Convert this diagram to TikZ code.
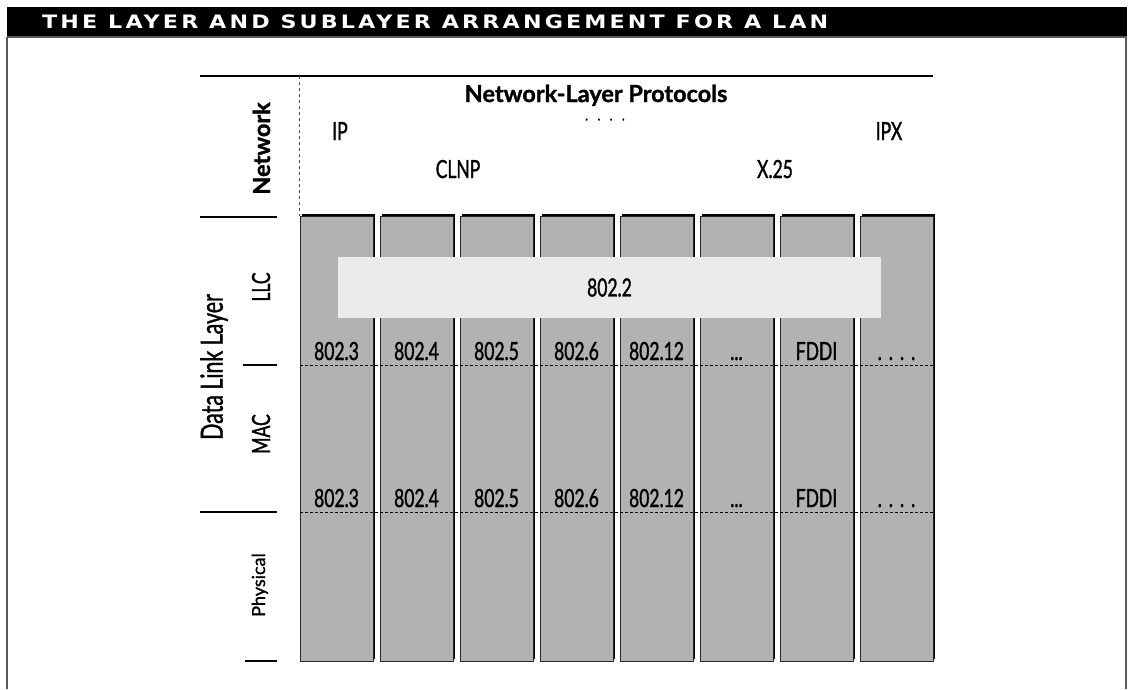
\documentclass[tikz,border=0pt]{standalone}
\usepackage{fontspec}
\setmainfont{Lato}
\newfontfamily\headfont[FakeBold=1.2]{Lato Bold}
\newfontfamily\plainfont[FakeBold=1.2]{Lato}
\newfontfamily\narrowfont[FakeStretch=0.7,FakeBold=1.2]{Lato}
\newfontfamily\titlefont[FakeStretch=1.2,LetterSpace=17]{DejaVu Sans}
\usepackage{tikz}
\usetikzlibrary{shadows}
\newcommand\tdots{...}
\newcommand\spdots{{\addfontfeature{LetterSpace=28}....}}

\begin{document}
\begin{tikzpicture}[x=1pt,y=-1pt,
  col/.style={draw=black!85,fill=black!30,line width=0.6pt,inner sep=0pt,minimum width=73pt,minimum height=445pt,
    drop shadow={shadow xshift=2pt,shadow yshift=2pt,fill=black,opacity=1}},
  lbl/.style={inner sep=0pt,font=\narrowfont\fontsize{25}{25}\selectfont},
  head/.style={inner sep=0pt,font=\headfont\fontsize{23.5}{24}\selectfont},
  side/.style={rotate=90,anchor=base},
  rule/.style={line width=1.8pt}]
  \useasboundingbox (0,0) rectangle (1130,689);
  \fill (7,7) rectangle (1127,37);
  \draw[black!65,line width=1.5pt] (7,37) -- (7,689) (1126,37) -- (1126,689) (7,37) -- (1127,37);
  \node[anchor=base west,inner sep=0pt,text=white,font=\titlefont\bfseries\fontsize{18.5}{19}\selectfont] (title) at (42,28.5) {THE LAYER AND SUBLAYER ARRANGEMENT FOR A LAN};
  \draw[line width=1.2pt] (200,76) -- (933,76);
  \draw[dashed,black!70,line width=0.6pt] (299,76) -- (299,216);
  \node[head,anchor=base] (nlp) at (596,102) {Network-Layer Protocols};
  \node[lbl,anchor=base,font=\narrowfont\fontsize{16}{16}\selectfont] (more) at (605,120.5) {\addfontfeature{LetterSpace=60}....};
  \node[lbl,anchor=base] (ip) at (340,140) {IP};
  \node[lbl,anchor=base] (ipx) at (889,140) {IPX};
  \node[lbl,anchor=base] (clnp) at (458,178) {CLNP};
  \node[lbl,anchor=base] (x25) at (775,178) {X.25};
  \node[head,side] (net) at (270,148.5) {Network};
  \node[lbl,side] (llclbl) at (270,287) {LLC};
  \node[lbl,side,font=\narrowfont\fontsize{30.5}{31}\selectfont] (dll) at (222.7,367) {Data Link Layer};
  \node[lbl,side] (maclbl) at (270,434) {MAC};
  \node[side,inner sep=0pt,font=\plainfont\fontsize{18}{18}\selectfont] (phylbl) at (265,585) {Physical};
  \draw[rule] (200,217) -- (277,217) (243,365) -- (277,365) (200,512) -- (277,512) (245,661) -- (277,661);
  \foreach \i in {1,...,8} \node[col] (c\i) at (256.5+80*\i,438.5) {};
  \node[lbl,fill=black!8,minimum width=543pt,minimum height=61pt] (llc) at (609.5,287.5) {802.2};
  \coordinate (r1) at (0,360);
  \coordinate (r2) at (0,507);
  \draw[dashed,line width=0.6pt,dash pattern=on 3pt off 2pt] (300,365) -- (933,365) (300,512) -- (933,512);
  \foreach \t [count=\i] in {802.3,802.4,802.5,802.6,802.12,\tdots,FDDI,\spdots} {
    \node[lbl,anchor=base] (mac\i) at (c\i.center |- r1) {\t};
    \node[lbl,anchor=base] (phy\i) at (c\i.center |- r2) {\t};
  }
\end{tikzpicture}
\end{document}
